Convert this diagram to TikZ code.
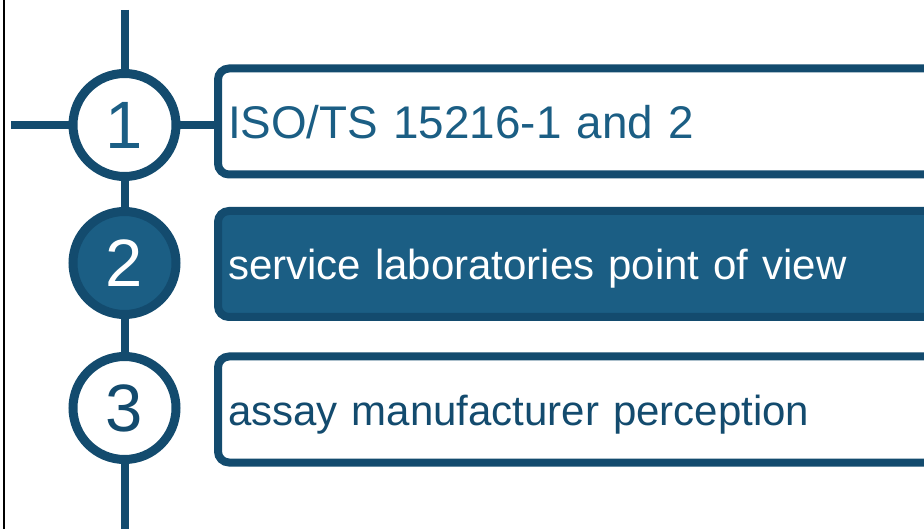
\documentclass[tikz,border=0pt]{standalone}
\usepackage{fontspec}
\setmainfont{Liberation Sans}
\definecolor{dk}{HTML}{134B6E}
\definecolor{md}{HTML}{1B5E84}
\begin{document}
\begin{tikzpicture}[x=1pt,y=-1pt,
  conn/.style={draw=dk,line width=8pt},
  numcirc/.style={circle,draw=dk,line width=9pt,fill=white,minimum size=103pt,inner sep=0pt,outer sep=0pt,font=\fontsize{67}{67}\selectfont},
  stepbox/.style={rectangle,rounded corners=11pt,draw=dk,line width=8pt,fill=white,anchor=west,outer sep=0pt,
    minimum width=800pt,minimum height=106pt,text width=780pt,align=left,inner xsep=6.5pt,
    text height=31pt,text depth=0pt,font=\fontsize{42}{42}\selectfont},
  active/.style={fill=md,text=white}]
\clip (0,0) rectangle (924,529);
\fill[white] (0,0) rectangle (924,529);
\draw[black,line width=2pt] (4,0) -- (4,529);
\coordinate (top) at (125,10);
\coordinate (bot) at (125,535);
\coordinate (lft) at (11,125);
\node[numcirc,text=md] (c1) at (124.5,125) {1};
\node[numcirc,active,draw=dk] (c2) at (124.5,263) {2};
\node[numcirc,text=dk] (c3) at (124.5,408) {3};
\node[stepbox,text=md,text height=35pt,font=\fontsize{45.8}{45.8}\selectfont] (b1) at (218,121.5) {ISO/TS 15216-1 and 2};
\node[stepbox,active,text height=32pt] (b2) at (218,264) {service laboratories point of view};
\node[stepbox,text=dk] (b3) at (218,409.5) {assay manufacturer perception};
\draw[conn] (top) -- (c1.north -| top);
\draw[conn] (c1.south -| top) -- (c2.north -| top);
\draw[conn] (c2.south -| top) -- (c3.north -| top);
\draw[conn] (c3.south -| top) -- (bot);
\draw[conn] (lft) -- (c1.west);
\draw[conn] (c1.east) -- (c1.east -| b1.west);
\end{tikzpicture}
\end{document}
